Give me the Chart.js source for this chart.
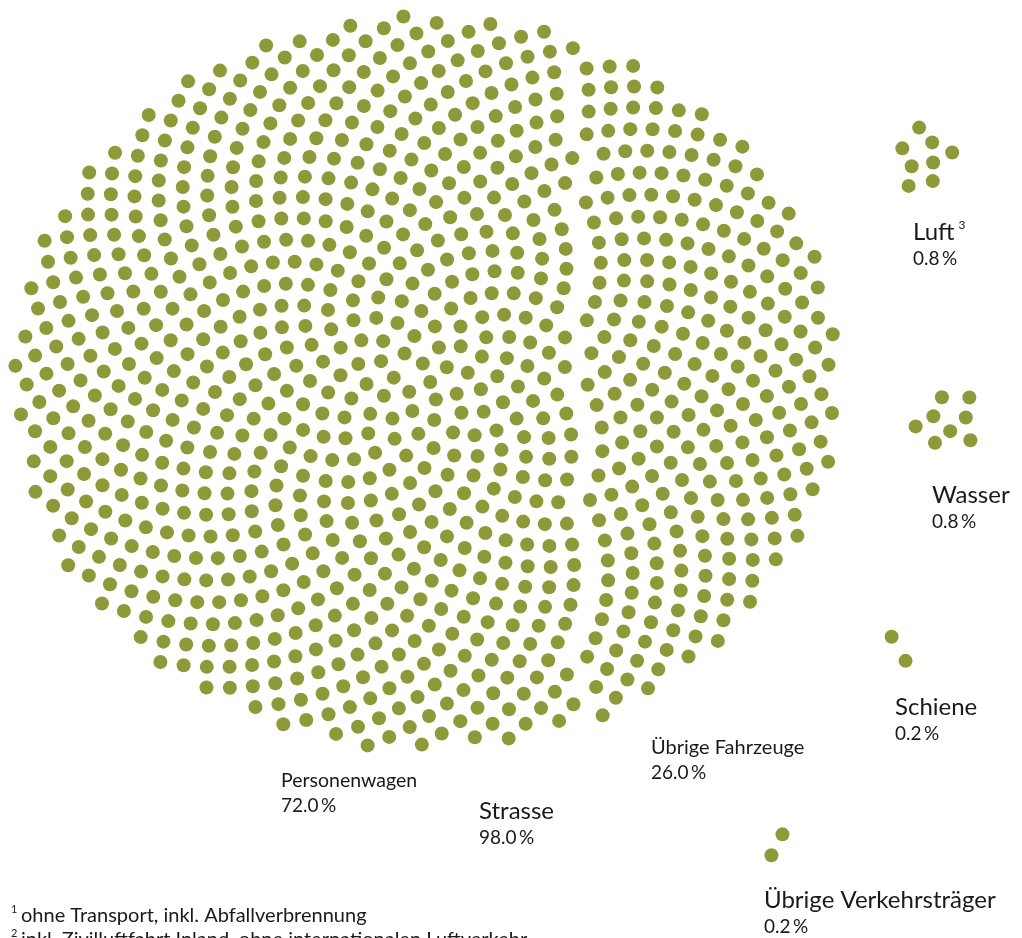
<!DOCTYPE html>
<html>
<head>
<meta charset="utf-8">
<script src="https://cdn.jsdelivr.net/npm/chart.js@4"></script>
<style>
    html, body { margin: 0; padding: 0; background: #fff; }
    #wrap { width: 1022px; height: 938px; position: relative; }
</style>
</head>
<body>
<div id="wrap"><canvas id="dotChart"></canvas></div>
<script>
// --- data (1 dot = 0.1 %) ---
var categories = ['Personenwagen', 'Übrige Fahrzeuge', 'Luft', 'Wasser', 'Schiene', 'Übrige Verkehrsträger'];
var shares = [72.0, 26.0, 0.8, 0.8, 0.2, 0.2];
var noteMarks = ['', '', '3', '', '', ''];
var groupName = 'Strasse';
var groupShare = 98.0;
var dotValue = 0.1;
var footnotes = ['ohne Transport, inkl. Abfallverbrennung', 'inkl. Zivilluftfahrt Inland, ohne internationalen Luftverkehr'];

// --- layout ---
var GOLDEN = Math.PI * (3 - Math.sqrt(5));
var olive = '#8e9a39';
var blob = { cx: 426, cy: 382, rx: 408, ry: 368, gap: 10 };
var clusters = [
    null, null,
    { cx: 925, cy: 160, r: 34, rot: 0.3 },
    { cx: 947, cy: 423, r: 35, rot: 1.2 },
    { cx: 905, cy: 650, r: 21.7, rot: 1.52 },
    { cx: 779, cy: 850, r: 18.5, rot: 2.53 }
];
var labelPos = [
    { x: 281, y: 787, size: 19.5 },
    { x: 651, y: 754, size: 20 },
    { x: 913, y: 240, size: 24 },
    { x: 932, y: 503, size: 24 },
    { x: 895, y: 715, size: 24 },
    { x: 764, y: 908, size: 24 }
];
var groupPos = { x: 479, y: 819, size: 24 };
var font = 'Lato, "Noto Sans", sans-serif';

function sunflower(n, cx, cy, rx, ry, rot) {
    var pts = [];
    for (var i = 0; i < n; i++) {
        var r = Math.sqrt((i + 0.5) / n);
        var a = i * GOLDEN + rot;
        pts.push({ x: cx + rx * r * Math.cos(a), y: cy + ry * r * Math.sin(a) });
    }
    return pts;
}

var counts = shares.map(function (s) { return Math.round(s / dotValue); });

// big blob: Strasse, split left/right into Personenwagen and Übrige Fahrzeuge
var blobPts = sunflower(counts[0] + counts[1], blob.cx, blob.cy, blob.rx, blob.ry, 0);
blobPts.sort(function (a, b) { return a.x - b.x; });
var points = [];
points.push(blobPts.slice(0, counts[0]).map(function (p) { return { x: p.x - blob.gap / 2, y: p.y }; }));
points.push(blobPts.slice(counts[0]).map(function (p) { return { x: p.x + blob.gap / 2, y: p.y }; }));
for (var k = 2; k < categories.length; k++) {
    var c = clusters[k];
    points.push(sunflower(counts[k], c.cx, c.cy, c.r, c.r, c.rot));
}

function pct(v) { return v.toFixed(1) + '\u2009%'; }

var labelPlugin = {
    id: 'dotLabels',
    afterDatasetsDraw: function (chart) {
        var ctx = chart.ctx;
        var xs = chart.scales.x, ys = chart.scales.y;
        ctx.save();
        ctx.fillStyle = '#1a1a1a';
        ctx.textAlign = 'left';
        ctx.textBaseline = 'alphabetic';
        function block(name, value, pos, mark) {
            var x = xs.getPixelForValue(pos.x), y = ys.getPixelForValue(pos.y);
            ctx.font = pos.size + 'px ' + font;
            ctx.fillText(name, x, y);
            if (mark) {
                var w = ctx.measureText(name).width;
                ctx.font = '12px ' + font;
                ctx.fillText(mark, x + w + 4, y - 11);
            }
            ctx.font = '19px ' + font;
            ctx.fillText(value, x, y + 25);
        }
        for (var i = 0; i < categories.length; i++) {
            block(categories[i], pct(shares[i]), labelPos[i], noteMarks[i]);
        }
        block(groupName, pct(groupShare), groupPos, '');
        // footnotes
        footnotes.forEach(function (t, i) {
            var y = 922 + i * 24;
            ctx.font = '11px ' + font;
            ctx.fillText(String(i + 1), 11, y - 9);
            ctx.font = '20px ' + font;
            ctx.fillText(t, 21, y);
        });
        ctx.restore();
    }
};

new Chart(document.getElementById('dotChart'), {
    type: 'scatter',
    data: {
        datasets: categories.map(function (name, i) {
            return {
                label: name,
                data: points[i],
                backgroundColor: olive,
                borderWidth: 0,
                pointRadius: 7,
                pointHoverRadius: 7,
                clip: false
            };
        })
    },
    options: {
        responsive: true,
        maintainAspectRatio: false,
        animation: false,
        events: [],
        layout: { padding: 0, autoPadding: false },
        plugins: { legend: { display: false }, tooltip: { enabled: false } },
        scales: {
            x: { type: 'linear', min: 0, max: 1022, display: false },
            y: { type: 'linear', min: 0, max: 938, reverse: true, display: false }
        }
    },
    plugins: [labelPlugin]
});
</script>
</body>
</html>
